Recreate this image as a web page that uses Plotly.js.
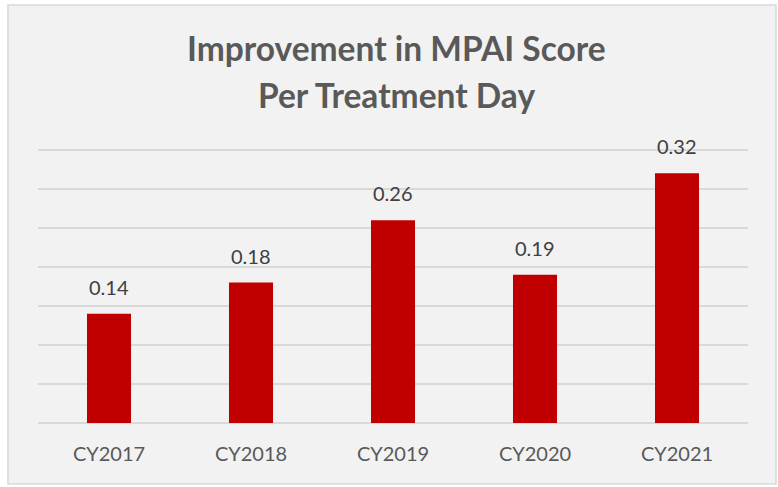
<!DOCTYPE html>
<html>
<head>
<meta charset="utf-8">
<script src="https://cdn.plot.ly/plotly-3.0.1.min.js"></script>
<style>html,body{margin:0;padding:0;background:#fff;}#chart{width:778px;height:487px;}</style>
</head>
<body>
<div id="chart"></div>
<script>
const categories = ["CY2017", "CY2018", "CY2019", "CY2020", "CY2021"];
const values = [0.14, 0.18, 0.26, 0.19, 0.32];
const valueLabels = ["0.14", "0.18", "0.26", "0.19", "0.32"];
const gridValues = [0.05, 0.1, 0.15, 0.2, 0.25, 0.3, 0.35];
const titleLines = ["Improvement in MPAI Score", "Per Treatment Day"];

const FONT = "Lato, 'Open Sans', sans-serif";

const trace = {
  type: "bar",
  x: categories,
  y: values,
  marker: {color: "#c00000"},
  hoverinfo: "x+y"
};

const labelAnns = categories.map((c, i) => ({
  x: c, y: values[i], xref: "x", yref: "y",
  text: valueLabels[i], showarrow: false,
  yanchor: "bottom", yshift: 13,
  font: {family: FONT, size: 20, color: "#404040"}
}));

const titleAnns = [
  {text: titleLines[0], y: 1.3636},
  {text: titleLines[1], y: 1.1927}
].map(a => ({
  text: "<b>" + a.text + "</b>", x: 0.5056, y: a.y, xref: "paper", yref: "paper",
  showarrow: false, xanchor: "center", yanchor: "middle",
  font: {family: FONT, size: 33.5, color: "#595959"}
}));

const layout = {
  width: 778, height: 487,
  margin: {l: 38, r: 30, t: 148, b: 64},
  paper_bgcolor: "#ffffff",
  plot_bgcolor: "rgba(0,0,0,0)",
  showlegend: false,
  bargap: 0.69,
  xaxis: {
    type: "category",
    showgrid: false, zeroline: false, showline: false,
    ticks: "outside", ticklen: 13, tickcolor: "rgba(0,0,0,0)",
    tickfont: {family: FONT, size: 20, color: "#595959"}
  },
  yaxis: {
    range: [0, 0.3525], tickvals: gridValues, showticklabels: false,
    showgrid: true, gridcolor: "#d9d9d9", gridwidth: 1.5,
    zeroline: true, zerolinecolor: "#d9d9d9", zerolinewidth: 1.5,
    showline: false, fixedrange: true
  },
  shapes: [{
    type: "rect", xref: "paper", yref: "paper", layer: "below",
    x0: -0.0423, x1: 1.0394, y0: -0.2218, y1: 1.52,
    fillcolor: "#f2f2f2", line: {color: "#d9d9d9", width: 1.5}
  }],
  annotations: labelAnns.concat(titleAnns)
};

Plotly.newPlot("chart", [trace], layout, {displayModeBar: false, staticPlot: true});
</script>
</body>
</html>
